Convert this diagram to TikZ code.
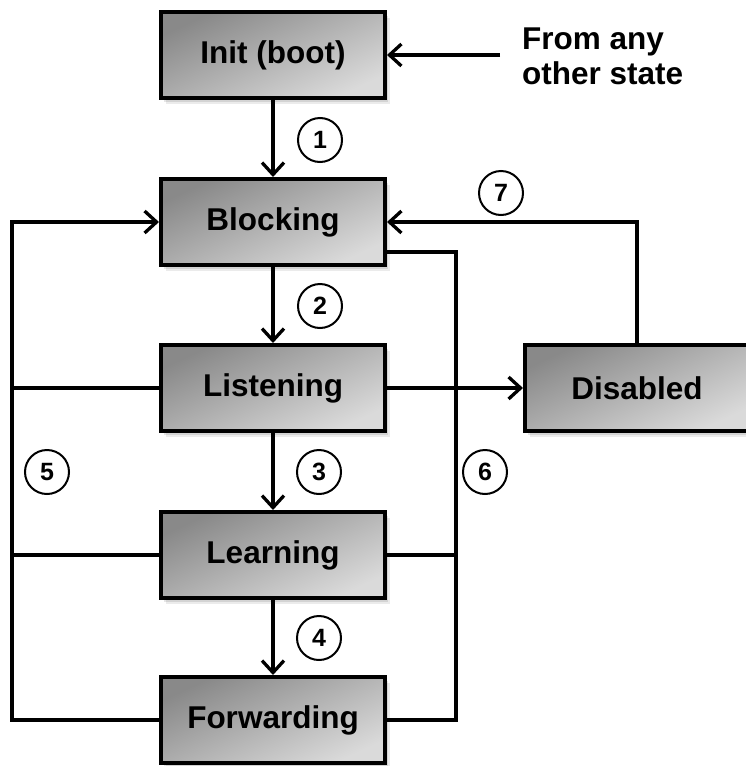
\documentclass[tikz,border=0pt]{standalone}
\usepackage{fontspec}
\setmainfont{Liberation Sans}
\usetikzlibrary{arrows.meta,shadows}
\definecolor{boxdark}{HTML}{898989}
\definecolor{boxmid}{HTML}{B6B6B6}
\definecolor{boxlight}{HTML}{DADADA}
\begin{document}
\begin{tikzpicture}[x=1pt,y=-1pt,
  state/.style={draw=black, line width=4pt, minimum width=224pt, minimum height=86pt,
    top color=boxdark, middle color=boxmid, bottom color=boxlight, shading angle=25,
    general shadow={fill=black, opacity=0.10, shadow xshift=3pt, shadow yshift=-4pt},
    general shadow={fill=black, opacity=0.08, shadow xshift=5pt, shadow yshift=-6pt},
    font=\fontsize{31.5}{36}\selectfont\bfseries},
  tag/.style={draw=black, line width=2pt, circle, minimum size=44pt, inner sep=0pt, fill=white,
    font=\fontsize{25}{30}\selectfont\bfseries},
  link/.style={line width=3.3pt, line join=miter},
  arr/.style={link, -{Straight Barb[length=12pt,width=22pt,line width=3.3pt]}}
]
\useasboundingbox (0,0) rectangle (746,766);

% states
\node[state] (init)   at (273,55)  {Init (boot)};
\node[state] (block)  at (273,222) {Blocking};
\node[state] (listen) at (273,388) {Listening};
\node[state] (learn)  at (273,555) {Learning};
\node[state] (forw)   at (273,720) {Forwarding};
\node[state] (dis)    at (637,388) {Disabled};

% corner points of the return paths
\coordinate (src) at (500,55);
\coordinate (lx)  at (12,222);
\coordinate (rx)  at (456,252);
\coordinate (d7)  at (637,222);

% main sequence
\draw[arr] (init.south)   -- (block.north);
\draw[arr] (block.south)  -- (listen.north);
\draw[arr] (listen.south) -- (learn.north);
\draw[arr] (learn.south)  -- (forw.north);

% from any other state
\draw[arr] (src) -- (init.east);

% return to blocking on the left
\draw[arr] (forw.west) -| (lx) -- (block.west);
\draw[link] (listen.west) -- (listen.west -| lx);
\draw[link] (learn.west)  -- (learn.west -| lx);

% connection on the right
\draw[link] (block.east |- rx) -- (rx) |- (forw.east);
\draw[link] (learn.east) -- (learn.east -| rx);

% disabled
\draw[arr] (listen.east) -- (dis.west);
\draw[arr] (dis.north -| d7) -- (d7) -- (block.east);

% transition numbers
\node[tag] (t1) at (320,140) {1};
\node[tag] (t2) at (320,306) {2};
\node[tag] (t3) at (319,472) {3};
\node[tag] (t4) at (319,638) {4};
\node[tag] (t5) at (47,472)  {5};
\node[tag] (t6) at (485,472) {6};
\node[tag] (t7) at (501,193) {7};

% caption of the incoming arrow
\node[anchor=north west, align=left, inner sep=0pt,
  font=\fontsize{31.5}{35}\selectfont\bfseries] (any) at (522,28) {From any\\other state};
\end{tikzpicture}
\end{document}
